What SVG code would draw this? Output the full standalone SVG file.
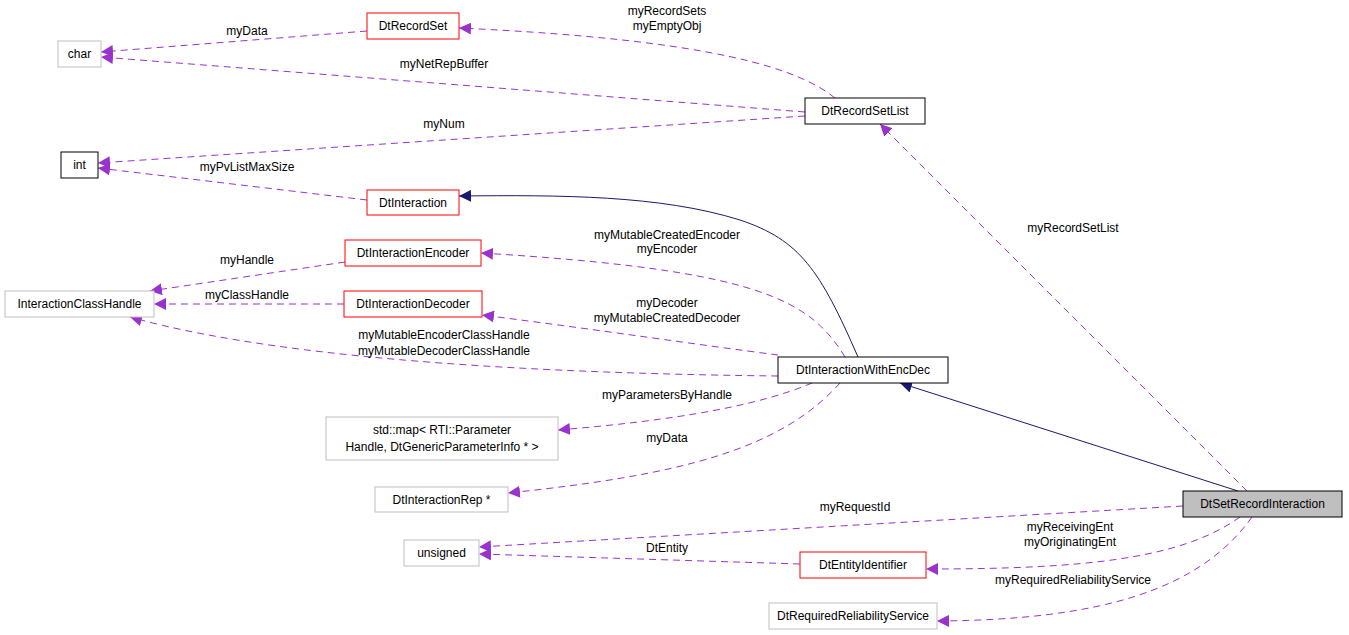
<svg xmlns="http://www.w3.org/2000/svg" width="1349" height="635" viewBox="0 0 1349 635">
<style>
text{font-family:"Liberation Sans",Arial,sans-serif;font-size:12px;text-anchor:middle;fill:#000}
.n rect{fill:#fff;stroke-width:1}
.red rect{stroke:#ff0000}
.gray rect{stroke:#bfbfbf}
.blk rect{stroke:#000}
.e{fill:none;stroke:#9a32cd;stroke-dasharray:7,5}
.i{fill:none;stroke:#191970}
</style>
<defs>
<marker id="pa" viewBox="0 0 10 10" refX="10" refY="5" markerWidth="12" markerHeight="12" markerUnits="userSpaceOnUse" orient="auto"><path d="M0,0L10,5L0,10z" fill="#9a32cd"/></marker>
<marker id="na" viewBox="0 0 10 10" refX="10" refY="5" markerWidth="12" markerHeight="12" markerUnits="userSpaceOnUse" orient="auto"><path d="M0,0L10,5L0,10z" fill="#191970"/></marker>
</defs>
<g id="connectors">
<path class="e" d="M367,31L101,52" marker-end="url(#pa)"/><text x="247" y="35">myData</text>
<path class="e" d="M835,98C800,70 720,40 459,28" marker-end="url(#pa)"/><text x="667" y="15">myRecordSets</text><text x="667" y="30">myEmptyObj</text>
<path class="e" d="M805,112L101,57" marker-end="url(#pa)"/><text x="444" y="68">myNetRepBuffer</text>
<path class="e" d="M805,116L98,163" marker-end="url(#pa)"/><text x="444" y="128">myNum</text>
<path class="e" d="M367,200L98,168" marker-end="url(#pa)"/><text x="247" y="171">myPvListMaxSize</text>
<path class="i" d="M858,357C820,270 800,240 740,220C660,195 560,195 459,196" marker-end="url(#na)"/>
<path class="e" d="M345,262L150,291" marker-end="url(#pa)"/><text x="247" y="264">myHandle</text>
<path class="e" d="M344,304L154,304" marker-end="url(#pa)"/><text x="247" y="299">myClassHandle</text>
<path class="e" d="M778,376C600,374 300,365 130,317" marker-end="url(#pa)"/><text x="444" y="339">myMutableEncoderClassHandle</text><text x="444" y="355">myMutableDecoderClassHandle</text>
<path class="e" d="M845,357C810,300 760,270 481,253" marker-end="url(#pa)"/><text x="667" y="239">myMutableCreatedEncoder</text><text x="667" y="253">myEncoder</text>
<path class="e" d="M778,355C700,345 600,330 482,315" marker-end="url(#pa)"/><text x="667" y="307">myDecoder</text><text x="667" y="322">myMutableCreatedDecoder</text>
<path class="e" d="M812,383C760,405 680,420 558,430" marker-end="url(#pa)"/><text x="667" y="399">myParametersByHandle</text>
<path class="e" d="M840,383C780,450 680,475 508,493" marker-end="url(#pa)"/><text x="667" y="442">myData</text>
<path class="e" d="M1247,491L880,124" marker-end="url(#pa)"/><text x="1073" y="232">myRecordSetList</text>
<path class="i" d="M1238,491L900,383" marker-end="url(#na)"/>
<path class="e" d="M1183,506L479,547" marker-end="url(#pa)"/><text x="855" y="511">myRequestId</text>
<path class="e" d="M800,564L479,554" marker-end="url(#pa)"/><text x="667" y="552">DtEntity</text>
<path class="e" d="M1240,517C1180,560 1080,569 926,569" marker-end="url(#pa)"/><text x="1070" y="531">myReceivingEnt</text><text x="1070" y="546">myOriginatingEnt</text>
<path class="e" d="M1252,517C1200,590 1100,620 937,621" marker-end="url(#pa)"/><text x="1073" y="584">myRequiredReliabilityService</text>
</g>
<g id="char" class="n gray"><rect x="58" y="41" width="43" height="26"/><text x="79.5" y="58">char</text></g>
<g id="DtRecordSet" class="n red"><rect x="367" y="13" width="92" height="26"/><text x="413" y="30">DtRecordSet</text></g>
<g id="int" class="n blk"><rect x="61" y="152" width="37" height="26"/><text x="79.5" y="169">int</text></g>
<g id="DtInteraction" class="n red"><rect x="367" y="190" width="92" height="25"/><text x="413" y="207">DtInteraction</text></g>
<g id="DtInteractionEncoder" class="n red"><rect x="345" y="240" width="136" height="26"/><text x="413" y="257">DtInteractionEncoder</text></g>
<g id="InteractionClassHandle" class="n gray"><rect x="5" y="291" width="149" height="26"/><text x="79.5" y="308">InteractionClassHandle</text></g>
<g id="DtInteractionDecoder" class="n red"><rect x="344" y="291" width="138" height="26"/><text x="413" y="308">DtInteractionDecoder</text></g>
<g id="DtRecordSetList" class="n blk"><rect x="805" y="98" width="120" height="26"/><text x="865" y="115">DtRecordSetList</text></g>
<g id="DtInteractionWithEncDec" class="n blk"><rect x="778" y="357" width="170" height="26"/><text x="863" y="374">DtInteractionWithEncDec</text></g>
<g id="stdmap" class="n gray"><rect x="326" y="417" width="232" height="43"/><text x="442" y="434">std::map&lt; RTI::Parameter</text><text x="442" y="451">Handle, DtGenericParameterInfo * &gt;</text></g>
<g id="DtInteractionRep" class="n gray"><rect x="375" y="487" width="133" height="25"/><text x="441.5" y="504">DtInteractionRep *</text></g>
<g id="DtSetRecordInteraction" class="n"><rect x="1183" y="491" width="159" height="26" fill="#bfbfbf" style="fill:#bfbfbf;stroke:#000"/><text x="1262.5" y="508">DtSetRecordInteraction</text></g>
<g id="unsigned" class="n gray"><rect x="404" y="540" width="75" height="26"/><text x="441.5" y="557">unsigned</text></g>
<g id="DtEntityIdentifier" class="n red"><rect x="800" y="552" width="126" height="26"/><text x="863" y="569">DtEntityIdentifier</text></g>
<g id="DtRequiredReliabilityService" class="n gray"><rect x="769" y="603" width="168" height="26"/><text x="853" y="620">DtRequiredReliabilityService</text></g>
</svg>
